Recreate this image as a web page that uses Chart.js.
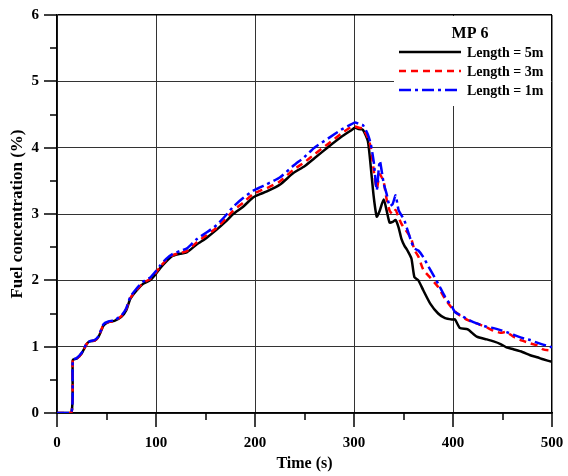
<!DOCTYPE html>
<html>
<head>
<meta charset="utf-8">
<script src="https://cdn.jsdelivr.net/npm/chart.js@4.4.0/dist/chart.umd.min.js"></script>
<style>
  html, body { margin: 0; padding: 0; background: #fff; }
  canvas { display: block; }
</style>
</head>
<body>
<canvas id="fuelChart" width="568" height="476"></canvas>
<script>
// time (s)
const times = [0, 14.5, 16, 20, 25, 30, 33, 38, 42, 47, 52, 58, 65, 70, 74, 80, 87, 94, 100, 104,
  110, 117, 124, 131, 141, 151, 161, 170, 178, 188, 198, 205, 212, 225, 239, 250, 260, 274, 287, 297,
  301, 305, 309, 314, 317, 320, 323, 326, 330, 333, 336, 339, 342, 345, 348, 351, 354, 358, 361, 365,
  370, 377, 385, 392, 399, 402, 407, 415, 424, 434, 441, 448, 454, 461, 470, 478, 485, 491, 500];

// fuel concentration (%)
const conc5m = [0, 0, 0.80, 0.82, 0.90, 1.04, 1.08, 1.09, 1.15, 1.32, 1.37, 1.39, 1.45, 1.55, 1.72, 1.84, 1.95, 2.00, 2.10, 2.18,
  2.28, 2.37, 2.40, 2.42, 2.54, 2.64, 2.76, 2.88, 3.00, 3.11, 3.25, 3.30, 3.34, 3.44, 3.62, 3.72, 3.84, 4.01, 4.16, 4.26,
  4.30, 4.28, 4.27, 4.10, 3.70, 3.25, 2.96, 3.05, 3.22, 3.05, 2.87, 2.88, 2.91, 2.80, 2.62, 2.52, 2.45, 2.33, 2.05, 2.00,
  1.85, 1.65, 1.50, 1.43, 1.41, 1.41, 1.28, 1.26, 1.15, 1.11, 1.08, 1.04, 0.99, 0.96, 0.92, 0.87, 0.84, 0.81, 0.77];

const conc3m = [0, 0, 0.80, 0.82, 0.90, 1.04, 1.08, 1.09, 1.15, 1.33, 1.37, 1.39, 1.46, 1.57, 1.73, 1.85, 1.96, 2.02, 2.12, 2.20,
  2.30, 2.38, 2.41, 2.44, 2.57, 2.68, 2.79, 2.92, 3.05, 3.17, 3.30, 3.35, 3.39, 3.49, 3.67, 3.78, 3.90, 4.06, 4.21, 4.31,
  4.32, 4.30, 4.29, 4.15, 4.00, 3.65, 3.38, 3.60, 3.48, 3.22, 3.05, 3.00, 3.06, 2.95, 2.85, 2.78, 2.72, 2.62, 2.46, 2.36,
  2.16, 2.04, 1.90, 1.72, 1.58, 1.53, 1.47, 1.40, 1.35, 1.29, 1.24, 1.21, 1.22, 1.15, 1.09, 1.05, 1.02, 0.96, 0.94];

const conc1m = [0, 0, 0.80, 0.83, 0.91, 1.05, 1.08, 1.10, 1.16, 1.34, 1.38, 1.40, 1.47, 1.58, 1.75, 1.87, 1.98, 2.04, 2.14, 2.22,
  2.32, 2.40, 2.44, 2.48, 2.62, 2.72, 2.83, 2.97, 3.11, 3.24, 3.35, 3.40, 3.45, 3.55, 3.73, 3.86, 4.00, 4.14, 4.27, 4.35,
  4.38, 4.36, 4.34, 4.20, 4.05, 3.78, 3.36, 3.80, 3.46, 3.30, 3.12, 3.15, 3.28, 3.06, 2.98, 2.90, 2.76, 2.58, 2.48, 2.45,
  2.35, 2.16, 1.95, 1.75, 1.60, 1.52, 1.48, 1.41, 1.35, 1.30, 1.28, 1.25, 1.22, 1.18, 1.13, 1.10, 1.06, 1.03, 0.99];

const seriesLabels = ['Length = 5m', 'Length = 3m', 'Length = 1m'];
const legendTitle = 'MP 6';

const FONT = 'Liberation Serif, Times New Roman, serif';

function toPoints(ys) {
    return times.map((t, i) => ({ x: t, y: ys[i] }));
}

// minor + major tick marks drawn outward like the original plot
const tickMarks = {
    id: 'tickMarks',
    afterDraw(chart) {
        const { ctx, chartArea, scales: { x, y } } = chart;
        ctx.save();
        ctx.strokeStyle = '#000';
        ctx.lineWidth = 1.5;
        x.ticks.forEach(t => {
            const px = Math.round(x.getPixelForValue(t.value));
            const len = t.value % 100 === 0 ? 14 : 7;
            ctx.beginPath();
            ctx.moveTo(px, chartArea.bottom);
            ctx.lineTo(px, chartArea.bottom + len);
            ctx.stroke();
        });
        y.ticks.forEach(t => {
            const py = Math.round(y.getPixelForValue(t.value));
            const len = t.value % 1 === 0 ? 13 : 7;
            ctx.beginPath();
            ctx.moveTo(chartArea.left, py);
            ctx.lineTo(chartArea.left - len, py);
            ctx.stroke();
        });
        ctx.restore();
    }
};

// legend box inside the plot, top right
const boxLegend = {
    id: 'boxLegend',
    afterDraw(chart) {
        const { ctx, chartArea } = chart;
        const right = chartArea.right;
        const top = chartArea.top;
        ctx.save();
        ctx.fillStyle = '#fff';
        ctx.fillRect(right - 158, top + 1, 157, 90);

        ctx.fillStyle = '#000';
        ctx.font = 'bold 16px ' + FONT;
        ctx.textAlign = 'center';
        ctx.textBaseline = 'middle';
        ctx.fillText(legendTitle, right - 82, top + 19);

        const rows = [top + 37, top + 56, top + 75];
        chart.data.datasets.forEach((ds, i) => {
            ctx.strokeStyle = ds.borderColor;
            ctx.lineWidth = 2.5;
            ctx.setLineDash(ds.borderDash || []);
            ctx.beginPath();
            ctx.moveTo(right - 153, rows[i]);
            ctx.lineTo(right - 91, rows[i]);
            ctx.stroke();
            ctx.setLineDash([]);
            ctx.font = 'bold 14px ' + FONT;
            ctx.textAlign = 'left';
            ctx.fillText(ds.label, right - 85, rows[i] + 1);
        });
        ctx.restore();
    }
};

const whiteBg = {
    id: 'whiteBg',
    beforeDraw(chart) {
        const ctx = chart.ctx;
        ctx.save();
        ctx.fillStyle = '#fff';
        ctx.fillRect(0, 0, chart.width, chart.height);
        ctx.restore();
    }
};

new Chart(document.getElementById('fuelChart').getContext('2d'), {
    type: 'line',
    data: {
        datasets: [
            {
                label: seriesLabels[0],
                data: toPoints(conc5m),
                borderColor: '#000000',
                borderWidth: 2.5,
                pointRadius: 0,
                tension: 0.2,
                order: 3
            },
            {
                label: seriesLabels[1],
                data: toPoints(conc3m),
                borderColor: '#ff0000',
                borderWidth: 2.5,
                borderDash: [7, 5],
                pointRadius: 0,
                tension: 0.2,
                order: 2
            },
            {
                label: seriesLabels[2],
                data: toPoints(conc1m),
                borderColor: '#0000ff',
                borderWidth: 2.5,
                borderDash: [12, 4, 3, 4],
                pointRadius: 0,
                tension: 0.2,
                order: 1
            }
        ]
    },
    options: {
        responsive: false,
        animation: false,
        layout: { padding: { left: 0, top: 15, right: 16, bottom: 0 } },
        plugins: {
            legend: { display: false },
            tooltip: { enabled: false }
        },
        scales: {
            x: {
                type: 'linear',
                min: 0,
                max: 500,
                afterFit: s => { s.height = 63; },
                border: { color: '#000', width: 1.5 },
                grid: {
                    drawTicks: true,
                    tickLength: 21,
                    tickColor: 'rgba(0,0,0,0)',
                    color: ctx => ctx.tick.value === 500 ? '#000' : (ctx.tick.value % 100 === 0 ? '#333' : 'rgba(0,0,0,0)'),
                    lineWidth: ctx => ctx.tick.value === 500 ? 1.5 : 1
                },
                ticks: {
                    stepSize: 50,
                    autoSkip: false,
                    maxRotation: 0,
                    padding: 0,
                    color: '#000',
                    font: { family: FONT, size: 15, weight: 'bold' },
                    callback: v => v % 100 === 0 ? String(v) : ''
                },
                title: {
                    display: true,
                    text: 'Time (s)',
                    color: '#000',
                    font: { family: FONT, size: 16, weight: 'bold' },
                    padding: { top: 0, bottom: 3 }
                }
            },
            y: {
                min: 0,
                max: 6,
                afterFit: s => { s.width = 57; },
                border: { color: '#000', width: 1.5 },
                grid: {
                    drawTicks: true,
                    tickLength: 18,
                    tickColor: 'rgba(0,0,0,0)',
                    color: ctx => ctx.tick.value === 6 ? '#000' : (ctx.tick.value % 1 === 0 ? '#333' : 'rgba(0,0,0,0)'),
                    lineWidth: ctx => ctx.tick.value === 6 ? 1.5 : 1
                },
                ticks: {
                    stepSize: 0.5,
                    autoSkip: false,
                    padding: 0,
                    color: '#000',
                    font: { family: FONT, size: 15, weight: 'bold' },
                    callback: v => v % 1 === 0 ? String(v) : ''
                },
                title: {
                    display: true,
                    text: 'Fuel concentration (%)',
                    color: '#000',
                    font: { family: FONT, size: 17, weight: 'bold' },
                    padding: { top: 7, bottom: 0 }
                }
            }
        }
    },
    plugins: [whiteBg, tickMarks, boxLegend]
});
</script>
</body>
</html>
